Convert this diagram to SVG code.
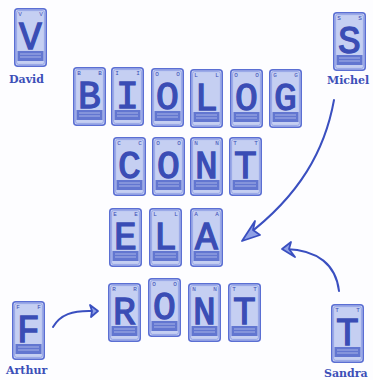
<svg xmlns="http://www.w3.org/2000/svg" xmlns:xlink="http://www.w3.org/1999/xlink" width="373" height="380" viewBox="0 0 373 380">
<style>
.big{font-family:"Liberation Mono","DejaVu Sans Mono",monospace;font-size:38px;fill:#3a4db5;stroke:#3a4db5;stroke-width:1.3;text-anchor:middle}
.sm{font-family:"Liberation Mono",monospace;font-size:6px;fill:#3a4db5;text-anchor:middle}
.name{font-family:"DejaVu Serif","Liberation Serif",serif;font-weight:bold;font-size:11px;fill:#3c4fb8}
.arrow{fill:none;stroke:#3a4fc0;stroke-width:2;stroke-linecap:round}
.head{fill:#8fa0e6;stroke:#3a4fc0;stroke-width:1.8;stroke-linejoin:round}
</style>
<defs>
<g id="card">
<rect x="0.75" y="0.75" width="31.5" height="57.5" rx="3" fill="#c5cff2" stroke="#5b6fd3" stroke-width="1.5"/>
<rect x="2.6" y="2.6" width="27.8" height="53.8" rx="2" fill="none" stroke="#8a9ae2" stroke-width="0.8"/>
<rect x="3.5" y="43" width="26" height="10" fill="#6276d0"/>
<line x1="6" y1="46" x2="27" y2="46" stroke="#c5cff2" stroke-width="0.7"/>
<line x1="6" y1="49" x2="27" y2="49" stroke="#c5cff2" stroke-width="0.7"/>
</g>
</defs>
<rect width="373" height="380" fill="#fdfdff"/>

<g id="connectors">
<path class="arrow" d="M334,100 C325,150 300,195 246,236"/>
<path class="head" d="M242,241 L255,221 L253,230 L260,235 Z"/>
<path class="arrow" d="M339,291 C336,265 318,250 286,249"/>
<path class="head" d="M282,249 L291,242 L289,249 L295,257 Z"/>
<path class="arrow" d="M53,327 C60,315 72,310 94,311"/>
<path class="head" d="M98,311 L90,305 L92,311 L91,317 Z"/>
</g>

<g id="david" transform="translate(14,8)"><use href="#card"/><text class="big" x="16.5" y="41">V</text><text class="sm" x="6" y="7.5">V</text><text class="sm" x="27" y="7.5">V</text></g>
<text class="name" x="9" y="83">David</text>

<g id="michel" transform="translate(333,12)"><use href="#card"/><text class="big" x="16.5" y="41">S</text><text class="sm" x="6" y="7.5">S</text><text class="sm" x="27" y="7.5">S</text></g>
<text class="name" x="327" y="84">Michel</text>

<g id="arthur" transform="translate(12,301)"><use href="#card"/><text class="big" x="16.5" y="41">F</text><text class="sm" x="6" y="7.5">F</text><text class="sm" x="27" y="7.5">F</text></g>
<text class="name" x="6" y="374">Arthur</text>

<g id="sandra" transform="translate(331,304)"><use href="#card"/><text class="big" x="16.5" y="41">T</text><text class="sm" x="6" y="7.5">T</text><text class="sm" x="27" y="7.5">T</text></g>
<text class="name" x="324" y="377">Sandra</text>

<g id="r1-B" transform="translate(73,67)"><use href="#card"/><text class="big" x="16.5" y="41">B</text><text class="sm" x="6" y="7.5">B</text><text class="sm" x="27" y="7.5">B</text></g>
<g id="r1-I" transform="translate(111,67)"><use href="#card"/><text class="big" x="16.5" y="41">I</text><text class="sm" x="6" y="7.5">I</text><text class="sm" x="27" y="7.5">I</text></g>
<g id="r1-O" transform="translate(151,68)"><use href="#card"/><text class="big" x="16.5" y="41">O</text><text class="sm" x="6" y="7.5">O</text><text class="sm" x="27" y="7.5">O</text></g>
<g id="r1-L" transform="translate(190,69)"><use href="#card"/><text class="big" x="16.5" y="41">L</text><text class="sm" x="6" y="7.5">L</text><text class="sm" x="27" y="7.5">L</text></g>
<g id="r1-O2" transform="translate(230,69)"><use href="#card"/><text class="big" x="16.5" y="41">O</text><text class="sm" x="6" y="7.5">O</text><text class="sm" x="27" y="7.5">O</text></g>
<g id="r1-G" transform="translate(269,69)"><use href="#card"/><text class="big" x="16.5" y="41">G</text><text class="sm" x="6" y="7.5">G</text><text class="sm" x="27" y="7.5">G</text></g>

<g id="r2-C" transform="translate(113,137)"><use href="#card"/><text class="big" x="16.5" y="41">C</text><text class="sm" x="6" y="7.5">C</text><text class="sm" x="27" y="7.5">C</text></g>
<g id="r2-O" transform="translate(152,137)"><use href="#card"/><text class="big" x="16.5" y="41">O</text><text class="sm" x="6" y="7.5">O</text><text class="sm" x="27" y="7.5">O</text></g>
<g id="r2-N" transform="translate(190,137)"><use href="#card"/><text class="big" x="16.5" y="41">N</text><text class="sm" x="6" y="7.5">N</text><text class="sm" x="27" y="7.5">N</text></g>
<g id="r2-T" transform="translate(229,137)"><use href="#card"/><text class="big" x="16.5" y="41">T</text><text class="sm" x="6" y="7.5">T</text><text class="sm" x="27" y="7.5">T</text></g>

<g id="r3-E" transform="translate(109,208)"><use href="#card"/><text class="big" x="16.5" y="41">E</text><text class="sm" x="6" y="7.5">E</text><text class="sm" x="27" y="7.5">E</text></g>
<g id="r3-L" transform="translate(149,208)"><use href="#card"/><text class="big" x="16.5" y="41">L</text><text class="sm" x="6" y="7.5">L</text><text class="sm" x="27" y="7.5">L</text></g>
<g id="r3-A" transform="translate(190,208)"><use href="#card"/><text class="big" x="16.5" y="41">A</text><text class="sm" x="6" y="7.5">A</text><text class="sm" x="27" y="7.5">A</text></g>

<g id="r4-R" transform="translate(108,283)"><use href="#card"/><text class="big" x="16.5" y="41">R</text><text class="sm" x="6" y="7.5">R</text><text class="sm" x="27" y="7.5">R</text></g>
<g id="r4-O" transform="translate(148,278)"><use href="#card"/><text class="big" x="16.5" y="41">O</text><text class="sm" x="6" y="7.5">O</text><text class="sm" x="27" y="7.5">O</text></g>
<g id="r4-N" transform="translate(188,283)"><use href="#card"/><text class="big" x="16.5" y="41">N</text><text class="sm" x="6" y="7.5">N</text><text class="sm" x="27" y="7.5">N</text></g>
<g id="r4-T" transform="translate(228,283)"><use href="#card"/><text class="big" x="16.5" y="41">T</text><text class="sm" x="6" y="7.5">T</text><text class="sm" x="27" y="7.5">T</text></g>
</svg>
